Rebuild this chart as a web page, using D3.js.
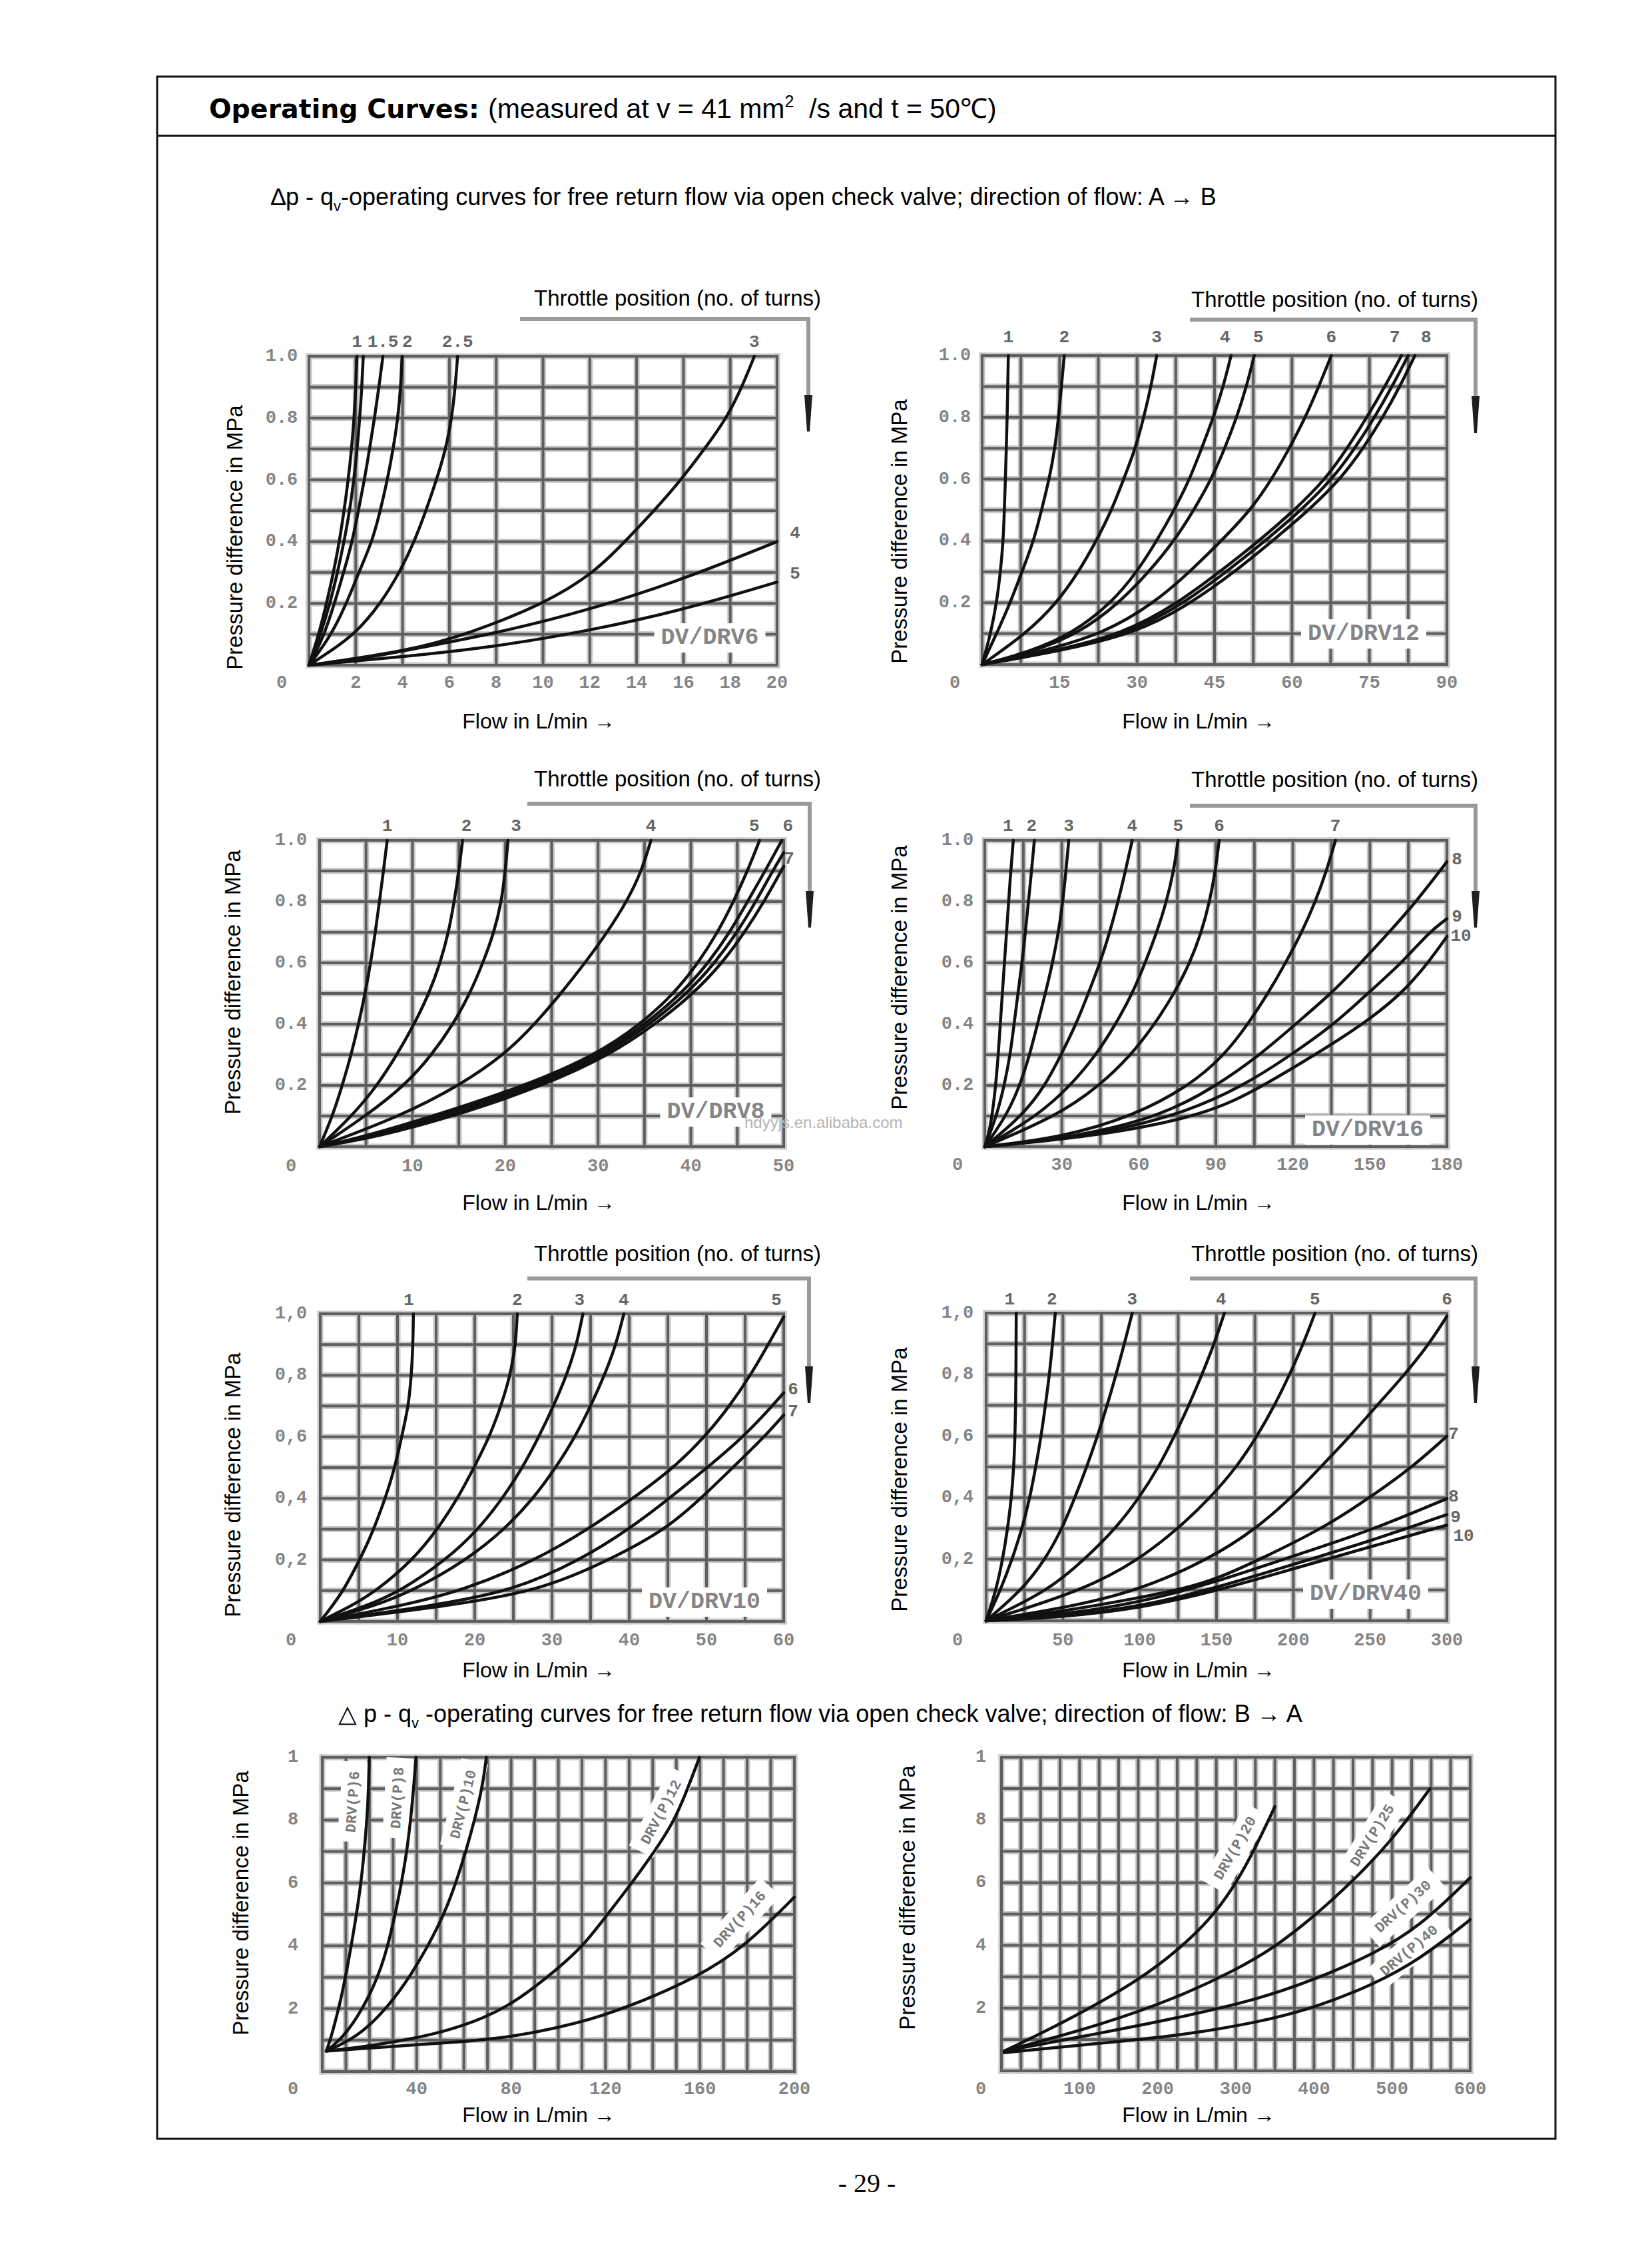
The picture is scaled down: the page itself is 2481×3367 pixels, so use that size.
<!DOCTYPE html>
<html><head><meta charset="utf-8">
<script src="https://cdn.jsdelivr.net/npm/d3@7"></script>
<style>html,body{margin:0;padding:0;background:#fff}</style>
</head><body>
<svg id="page" width="2481" height="3367" xmlns="http://www.w3.org/2000/svg"></svg>
<script>
// ================= DATA =================
// common y ticks (pressure difference, MPa)
const yTickVals = [0.2, 0.4, 0.6, 0.8, 1.0];
const yLabDot = ["0.2", "0.4", "0.6", "0.8", "1.0"];
const yLabComma = ["0,2", "0,4", "0,6", "0,8", "1,0"];
const yLabBA = ["2", "4", "6", "8", "1"];

// ---- DV/DRV6 ----
const dv6XTicks = [0, 2, 4, 6, 8, 10, 12, 14, 16, 18, 20];
const dv6Names = ["1", "", "1.5", "2", "2.5", "3", "4", "5"];
const dv6Curves = [
  [[0,0],[0.42,0.1],[0.75,0.2],[1.05,0.3],[1.3,0.4],[1.5,0.5],[1.68,0.6],[1.82,0.7],[1.93,0.8],[2.0,0.9],[2.05,1.0]],
  [[0,0],[0.5,0.1],[0.9,0.2],[1.22,0.3],[1.5,0.4],[1.74,0.5],[1.92,0.6],[2.06,0.7],[2.17,0.8],[2.26,0.9],[2.32,1.0]],
  [[0,0],[0.62,0.09],[1.09,0.2],[1.52,0.31],[1.85,0.4],[2.11,0.5],[2.37,0.6],[2.59,0.7],[2.8,0.8],[2.99,0.9],[3.16,1.0]],
  [[0,0],[0.9,0.09],[1.61,0.2],[2.18,0.31],[2.7,0.4],[3.05,0.5],[3.35,0.6],[3.6,0.7],[3.8,0.8],[3.92,0.9],[3.98,1.0]],
  [[0,0],[1.0,0.05],[1.95,0.1],[3.08,0.2],[3.94,0.31],[4.5,0.4],[5.0,0.5],[5.45,0.6],[5.85,0.7],[6.1,0.8],[6.25,0.9],[6.35,1.0]],
  [[0,0],[4.24,0.046],[6.76,0.1],[10.1,0.2],[12.2,0.3],[13.5,0.4],[14.75,0.5],[15.9,0.6],[16.9,0.7],[17.85,0.8],[18.5,0.9],[19.03,1.0]],
  [[0,0],[2,0.017],[4,0.046],[8,0.103],[12,0.179],[16,0.278],[20,0.4]],
  [[0,0],[4,0.027],[8,0.06],[12,0.112],[16,0.179],[20,0.269]]
];

// ---- DV/DRV12 ----
const dv12XTicks = [0, 15, 30, 45, 60, 75, 90];
const dv12Names = ["1", "2", "3", "4", "5", "6", "7", "", "8"];
const dv12Curves = [
  [[0,0],[1.66,0.1],[2.8,0.2],[3.55,0.3],[4.08,0.4],[4.3,0.5],[4.5,0.6],[4.68,0.7],[4.84,0.8],[4.96,0.9],[5.07,1.0]],
  [[0,0],[2.8,0.1],[5.45,0.2],[7.7,0.3],[10.0,0.4],[11.5,0.5],[13.0,0.6],[14.1,0.7],[14.8,0.8],[15.35,0.9],[15.9,1.0]],
  [[0,0],[8.5,0.1],[14.5,0.2],[18.7,0.3],[22.1,0.4],[25.1,0.5],[27.4,0.6],[29.7,0.7],[31.3,0.8],[32.7,0.9],[33.8,1.0]],
  [[0,0],[9,0.04],[17.5,0.1],[25.1,0.2],[30.0,0.3],[33.8,0.4],[37.2,0.5],[40.2,0.6],[42.5,0.7],[44.8,0.8],[46.7,0.9],[48.2,1.0]],
  [[0,0],[9.5,0.04],[18.7,0.1],[26.6,0.2],[32.3,0.3],[37.2,0.4],[41.0,0.5],[44.4,0.6],[47.0,0.7],[49.3,0.8],[51.2,0.9],[52.7,1.0]],
  [[0,0],[11,0.04],[23.6,0.1],[33.4,0.2],[40.2,0.3],[46.3,0.4],[52.0,0.5],[56.1,0.6],[59.5,0.7],[62.6,0.8],[65.2,0.9],[67.6,1.0]],
  [[0,0],[13,0.04],[27.5,0.1],[38.0,0.2],[46.0,0.3],[53.6,0.4],[60.5,0.5],[66.5,0.6],[70.7,0.7],[74.5,0.8],[78.0,0.9],[81.2,1.0]],
  [[0,0],[13.5,0.04],[28.6,0.1],[39.2,0.2],[47.3,0.3],[54.8,0.4],[61.8,0.5],[67.8,0.6],[72.2,0.7],[76.0,0.8],[79.4,0.9],[82.5,1.0]],
  [[0,0],[14,0.04],[29.8,0.1],[40.6,0.2],[48.9,0.3],[56.2,0.4],[63.3,0.5],[69.4,0.6],[73.8,0.7],[77.6,0.8],[80.9,0.9],[83.8,1.0]]
];

// ---- DV/DRV8 ----
const dv8XTicks = [0, 10, 20, 30, 40, 50];
const dv8Names = ["1", "2", "3", "4", "5", "6", "", "7"];
const dv8Curves = [
  [[0,0],[1.39,0.1],[2.44,0.2],[3.4,0.3],[4.2,0.4],[4.9,0.5],[5.5,0.6],[6.0,0.7],[6.45,0.8],[6.88,0.9],[7.28,1.0]],
  [[0,0],[3.49,0.1],[6.23,0.2],[8.33,0.3],[10.2,0.4],[11.8,0.5],[13.0,0.6],[13.9,0.7],[14.5,0.8],[15.0,0.9],[15.4,1.0]],
  [[0,0],[4.97,0.1],[9.2,0.2],[12.1,0.3],[14.4,0.4],[16.2,0.5],[17.6,0.6],[18.8,0.7],[19.6,0.8],[20.0,0.9],[20.3,1.0]],
  [[0,0],[8.75,0.1],[15.1,0.2],[19.9,0.3],[23.2,0.4],[26.0,0.5],[28.6,0.6],[31.0,0.7],[33.1,0.8],[34.7,0.9],[35.7,1.0]],
  [[0,0],[4.5,0.03],[12.3,0.1],[22.3,0.2],[29.8,0.3],[34.6,0.4],[38.2,0.5],[40.8,0.6],[42.9,0.7],[44.6,0.8],[46.1,0.9],[47.4,1.0]],
  [[0,0],[5.0,0.03],[13.1,0.1],[23.0,0.2],[30.3,0.3],[35.1,0.4],[39.0,0.5],[41.9,0.6],[44.2,0.7],[46.1,0.8],[48.0,0.9],[49.8,1.0]],
  [[0,0],[5.5,0.03],[13.9,0.1],[23.6,0.2],[30.8,0.3],[35.6,0.4],[39.6,0.5],[42.6,0.6],[45.0,0.7],[47.0,0.8],[48.8,0.9],[50,0.96]],
  [[0,0],[6.0,0.03],[14.6,0.1],[24.2,0.2],[31.3,0.3],[36.2,0.4],[40.3,0.5],[43.4,0.6],[45.8,0.7],[47.9,0.8],[50,0.915]]
];

// ---- DV/DRV16 ----
const dv16XTicks = [0, 30, 60, 90, 120, 150, 180];
const dv16Names = ["1", "2", "3", "4", "5", "6", "7", "8", "9", "10"];
const dv16Curves = [
  [[0,0],[2.0,0.055],[3.8,0.16],[5.3,0.3],[6.8,0.5],[8.4,0.69],[9.9,0.88],[11.1,1.0]],
  [[0,0],[4.6,0.1],[7.6,0.2],[9.9,0.3],[11.4,0.4],[12.9,0.5],[14.5,0.6],[15.8,0.7],[17.0,0.8],[18.2,0.9],[19.3,1.0]],
  [[0,0],[8.4,0.1],[13.7,0.2],[17.5,0.3],[20.5,0.4],[23.6,0.5],[26.4,0.6],[28.7,0.7],[30.4,0.8],[31.6,0.9],[32.7,1.0]],
  [[0,0],[14.5,0.1],[23.6,0.2],[29.7,0.3],[35.6,0.4],[40.3,0.5],[44.9,0.6],[48.7,0.7],[51.9,0.8],[54.8,0.9],[57.4,1.0]],
  [[0,0],[20.5,0.1],[33.5,0.2],[43.4,0.3],[51.0,0.4],[57.5,0.5],[62.5,0.6],[67.0,0.7],[70.8,0.8],[73.6,0.9],[75.3,1.0]],
  [[0,0],[28.1,0.1],[44.9,0.2],[57.1,0.3],[66.2,0.4],[73.8,0.5],[79.9,0.6],[84.4,0.7],[87.6,0.8],[89.8,0.9],[91.3,1.0]],
  [[0,0],[30,0.03],[58,0.1],[80,0.2],[93.5,0.3],[102.5,0.4],[110.3,0.5],[117.2,0.6],[123.5,0.7],[128.8,0.8],[133.1,0.9],[136.6,1.0]],
  [[0,0],[35,0.03],[69.2,0.1],[90.5,0.2],[107.3,0.3],[121.0,0.4],[135.0,0.5],[146.5,0.6],[157.5,0.7],[168.1,0.8],[180,0.93]],
  [[0,0],[38,0.03],[75.3,0.1],[101.2,0.2],[119.4,0.3],[136.2,0.4],[149.1,0.5],[162.5,0.6],[173.0,0.7],[180,0.744]],
  [[0,0],[40,0.03],[86,0.1],[108.8,0.2],[128.6,0.3],[147.5,0.4],[162.5,0.5],[172.7,0.6],[180,0.686]]
];

// ---- DV/DRV10 ----
const dv10XTicks = [0, 10, 20, 30, 40, 50, 60];
const dv10Names = ["1", "2", "3", "4", "5", "6", "7"];
const dv10Curves = [
  [[0,0],[2.8,0.09],[4.8,0.186],[6.3,0.262],[7.8,0.357],[9.1,0.452],[10.1,0.548],[10.9,0.643],[11.4,0.7],[11.8,0.8],[12.0,0.9],[12.05,1.0]],
  [[0,0],[4.0,0.05],[7.3,0.1],[12.0,0.2],[15.2,0.3],[17.8,0.4],[19.9,0.5],[21.9,0.6],[23.4,0.7],[24.6,0.8],[25.3,0.9],[25.5,1.0]],
  [[0,0],[6.0,0.05],[10.5,0.1],[16.3,0.2],[20.5,0.3],[23.6,0.4],[26.2,0.5],[28.3,0.6],[30.2,0.7],[31.9,0.8],[33.2,0.9],[34.0,1.0]],
  [[0,0],[7.0,0.05],[12.0,0.1],[19.0,0.2],[23.9,0.3],[27.6,0.4],[30.5,0.5],[33.0,0.6],[35.0,0.7],[36.8,0.8],[38.3,0.9],[39.3,1.0]],
  [[0,0],[10.4,0.05],[18.5,0.1],[28.0,0.2],[34.7,0.3],[40.5,0.4],[45.8,0.5],[49.8,0.6],[53.0,0.7],[55.7,0.8],[58.0,0.9],[60,0.99]],
  [[0,0],[14.4,0.05],[25.1,0.1],[33.7,0.2],[40.0,0.3],[45.2,0.4],[50.1,0.5],[54.8,0.6],[58.5,0.7],[60,0.743]],
  [[0,0],[16.5,0.05],[28.5,0.1],[37.5,0.2],[44.8,0.3],[49.3,0.4],[53.4,0.5],[57.5,0.6],[60,0.671]]
];

// ---- DV/DRV40 ----
const dv40XTicks = [0, 50, 100, 150, 200, 250, 300];
const dv40Names = ["1", "2", "3", "4", "5", "6", "7", "8", "9", "10"];
const dv40Curves = [
  [[0,0],[6.5,0.1],[10.8,0.2],[14.0,0.3],[16.5,0.4],[18.0,0.5],[18.8,0.6],[19.2,0.7],[19.4,0.8],[19.5,0.9],[19.6,1.0]],
  [[0,0],[9.4,0.1],[17.0,0.2],[23.4,0.3],[28.5,0.4],[32.3,0.5],[35.8,0.6],[38.6,0.7],[41.2,0.8],[43.2,0.9],[45.0,1.0]],
  [[0,0],[23.4,0.1],[38.6,0.2],[49.5,0.3],[57.8,0.4],[65.5,0.5],[72.5,0.6],[78.8,0.7],[84.6,0.8],[90.0,0.9],[95.1,1.0]],
  [[0,0],[41.2,0.1],[64.1,0.2],[84.4,0.3],[99.7,0.4],[112.4,0.5],[122.6,0.6],[132.0,0.7],[140.5,0.8],[148.5,0.9],[155.1,1.0]],
  [[0,0],[64.1,0.1],[100,0.2],[125.1,0.3],[146,0.4],[163.2,0.5],[176.5,0.6],[187.8,0.7],[197.6,0.8],[206.5,0.9],[214.1,1.0]],
  [[0,0],[60,0.05],[99.7,0.1],[145.4,0.2],[176.0,0.3],[198.8,0.4],[217.9,0.5],[237.0,0.6],[254.5,0.7],[272.5,0.8],[288.5,0.9],[300,0.99]],
  [[0,0],[50,0.03],[100,0.075],[125,0.1],[150,0.135],[178.5,0.2],[219.2,0.3],[249.7,0.4],[277.7,0.5],[300,0.6]],
  [[0,0],[50,0.02],[100,0.059],[150,0.126],[200,0.211],[250,0.292],[300,0.397]],
  [[0,0],[50,0.015],[100,0.045],[150,0.107],[200,0.183],[250,0.259],[300,0.345]],
  [[0,0],[50,0.012],[100,0.04],[150,0.097],[200,0.169],[250,0.24],[300,0.311]]
];

// ---- B -> A, left ----
const baLeftXTicks = [0, 40, 80, 120, 160, 200];
const baLeftNames = ["DRV(P)6", "DRV(P)8", "DRV(P)10", "DRV(P)12", "DRV(P)16"];
const baLeftCurves = [
  [[1.7,0.065],[3.3,0.097],[8.3,0.235],[13.2,0.438],[16.6,0.6],[19.0,0.803],[19.6,0.9],[19.9,1.0]],
  [[1.7,0.065],[9.9,0.114],[19.9,0.235],[26.5,0.357],[31.5,0.519],[35.6,0.681],[38.1,0.843],[39.7,1.0]],
  [[1.7,0.065],[16.6,0.114],[33.1,0.251],[44.7,0.397],[53.0,0.519],[61.3,0.706],[67.9,0.9],[69.5,1.0]],
  [[1.7,0.065],[19.9,0.081],[46.4,0.114],[69.5,0.17],[84.4,0.235],[99.3,0.324],[110.6,0.40],[120.5,0.497],[131.6,0.604],[140.7,0.70],[149.0,0.795],[154.8,0.9],[159.8,1.0]],
  [[1.7,0.065],[30,0.08],[60,0.095],[81,0.11],[109,0.154],[129,0.203],[159,0.30],[179,0.397],[200,0.555]]
];

// ---- B -> A, right ----
const baRightXTicks = [0, 100, 200, 300, 400, 500, 600];
const baRightNames = ["DRV(P)20", "DRV(P)25", "DRV(P)30", "DRV(P)40"];
const baRightCurves = [
  [[3.5,0.063],[51,0.12],[106,0.19],[176,0.29],[226,0.385],[266,0.48],[296,0.58],[323,0.70],[350,0.843]],
  [[3.5,0.063],[126,0.145],[226,0.234],[301,0.323],[351,0.396],[401,0.494],[451,0.608],[501,0.738],[548.5,0.9]],
  [[3.5,0.063],[126,0.12],[226,0.169],[326,0.226],[401,0.291],[476,0.372],[536,0.461],[600,0.616]],
  [[3.5,0.058],[126,0.088],[226,0.112],[326,0.153],[401,0.201],[476,0.275],[536,0.356],[600,0.482]]
];

// ================= LAYOUT =================
const svg = d3.select('#page');
const SANS = "'Liberation Sans', Arial, sans-serif";
const MONO = "'Liberation Mono', 'DejaVu Sans Mono', monospace";

const charts = [
  {id:'c6', x0:464, x1:1167, y0:535, y1:999, xMax:20, xStep:2, xTicks:dv6XTicks, yTickLabels:yLabDot,
   curves:dv6Curves, names:dv6Names, yLabDx:-41, xLabDy:27, topDy:-21, rightDx:27, rightDy:-12,
   labelOff:{3:[8,0]}, model:{text:'DV/DRV6', x:1066, y:958}},
  {id:'c12', x0:1475, x1:2173, y0:534, y1:998, xMax:90, xStep:7.5, xTicks:dv12XTicks, yTickLabels:yLabDot,
   curves:dv12Curves, names:dv12Names, yLabDx:-41, xLabDy:28, topDy:-27, rightDx:20, rightDy:-8,
   labelOff:{3:[-9,0],4:[6,0],6:[-10,0],8:[17,0]}, model:{text:'DV/DRV12', x:2048, y:952}},
  {id:'c8', x0:480, x1:1177, y0:1262, y1:1722, xMax:50, xStep:5, xTicks:dv8XTicks, yTickLabels:yLabDot,
   curves:dv8Curves, names:dv8Names, yLabDx:-43, xLabDy:30, topDy:-21, rightDx:8, rightDy:-11,
   labelOff:{1:[6,0],2:[12,0],4:[-8,0],5:[9,0]}, model:{text:'DV/DRV8', x:1075, y:1670}},
  {id:'c16', x0:1479, x1:2173, y0:1262, y1:1722, xMax:180, xStep:15, xTicks:dv16XTicks, yTickLabels:yLabDot,
   curves:dv16Curves, names:dv16Names, yLabDx:-41, xLabDy:28, topDy:-21, rightDx:15, rightDy:-3,
   labelOff:{0:[-8,0],1:[-4,0],9:[6,3]}, model:{text:'DV/DRV16', x:2054, y:1697}},
  {id:'c10', x0:481, x1:1177, y0:1973, y1:2435, xMax:60, xStep:5, xTicks:dv10XTicks, yTickLabels:yLabComma,
   curves:dv10Curves, names:dv10Names, yLabDx:-44, xLabDy:29, topDy:-20, rightDx:14, rightDy:-5,
   labelOff:{0:[-7,0],2:[-5,0],4:[-11,0]}, model:{text:'DV/DRV10', x:1058, y:2406}},
  {id:'c40', x0:1481, x1:2173, y0:1972, y1:2434, xMax:300, xStep:25, xTicks:dv40XTicks, yTickLabels:yLabComma,
   curves:dv40Curves, names:dv40Names, yLabDx:-43, xLabDy:30, topDy:-20, rightDx:10, rightDy:-3,
   labelOff:{0:[-10,0],1:[-5,0],3:[-5,0],8:[3,7],9:[15,20]}, model:{text:'DV/DRV40', x:2051, y:2394}},
  {id:'cbl', x0:484, x1:1193, y0:2639, y1:3111, xMax:200, xStep:10, xTicks:baLeftXTicks, yTickLabels:yLabBA,
   curves:baLeftCurves, names:[], yLabDx:-44, xLabDy:27,
   rot:{names:baLeftNames, pos:[[531,2706,-86],[598,2700,-87],[697,2710,-76],[994,2722,-62],[1112,2883,-48]]}},
  {id:'cbr', x0:1504, x1:2208, y0:2639, y1:3110, xMax:600, xStep:25, xTicks:baRightXTicks, yTickLabels:yLabBA,
   curves:baRightCurves, names:[], yLabDx:-31, xLabDy:28,
   rot:{names:baRightNames, pos:[[1856,2776,-60],[2062,2757,-58],[2108,2864,-42],[2117,2930,-40]]}}
];

const yTitles = [[352,807],[1350,798],[349,1475],[1350,1468],[349,2230],[1350,2222],[361,2858],[1362,2850]];
const flowLabels = [[809,1083],[1800,1083],[809,1806],[1800,1806],[809,2508],[1800,2508],[809,3176],[1800,3176]];
const throttles = [
  {tx:1233, ty:459, hx0:781, vx:1214, hy:479, yEnd:648},
  {tx:2220, ty:461, hx0:1787, vx:2216, hy:480, yEnd:650},
  {tx:1233, ty:1181, hx0:792, vx:1216, hy:1207, yEnd:1393},
  {tx:2220, ty:1182, hx0:1787, vx:2216, hy:1210, yEnd:1393},
  {tx:1233, ty:1894, hx0:792, vx:1215, hy:1920, yEnd:2107},
  {tx:2220, ty:1894, hx0:1787, vx:2216, hy:1920, yEnd:2107}
];

// ================= PAGE FRAME & TITLES =================
svg.append('rect').attr('x',0).attr('y',0).attr('width',2481).attr('height',3367).attr('fill','#fff');
svg.append('rect').attr('x',236).attr('y',115).attr('width',2100).attr('height',3097)
  .attr('fill','none').attr('stroke','#111').attr('stroke-width',3);
svg.append('line').attr('x1',236).attr('x2',2336).attr('y1',204).attr('y2',204)
  .attr('stroke','#111').attr('stroke-width',3);

svg.append('text').attr('x',314).attr('y',177).attr('font-family',"'DejaVu Sans', sans-serif")
  .attr('font-weight','bold').attr('font-size',39.5).attr('fill','#000').text('Operating Curves:');
{
  const t = svg.append('text').attr('x',733).attr('y',177).attr('font-family',SANS).attr('font-size',41).attr('fill','#000');
  t.append('tspan').text('(measured at v = 41 mm');
  t.append('tspan').attr('font-size',25).attr('dy',-16).text('2');
  t.append('tspan').attr('dy',16).text('\u00a0 /s and t = 50\u2103)');
}
function subtitle(x, y, pre, post) {
  const t = svg.append('text').attr('x',x).attr('y',y).attr('font-family',SANS).attr('font-size',36).attr('fill','#000');
  t.append('tspan').text(pre);
  t.append('tspan').attr('font-size',22).attr('dy',9).text('v');
  t.append('tspan').attr('dy',-9).text(post);
}
subtitle(407, 308, '\u2206p - q', '-operating curves for free return flow via open check valve; direction of flow: A \u2192 B');
subtitle(508, 2586, '\u25B3 p - q', ' -operating curves for free return flow via open check valve; direction of flow: B \u2192 A');

svg.append('text').attr('x',1302).attr('y',3292).attr('text-anchor','middle')
  .attr('font-family',"'Liberation Serif', 'Times New Roman', serif").attr('font-size',40).text('- 29 -');

// ================= CHARTS =================
function drawChart(c) {
  const xs = d3.scaleLinear().domain([0, c.xMax]).range([c.x0, c.x1]);
  const ys = d3.scaleLinear().domain([0, 1]).range([c.y1, c.y0]);
  const g = svg.append('g');
  svg.append('clipPath').attr('id', c.id).append('rect')
    .attr('x', c.x0 - 3).attr('y', c.y0 - 3).attr('width', c.x1 - c.x0 + 6).attr('height', c.y1 - c.y0 + 6);

  const xg = d3.range(0, c.xMax + c.xStep / 2, c.xStep);
  const yg = d3.range(0, 11).map(i => i / 10);
  [['#c8c8c8', 9], ['#5e5e5e', 4]].forEach(([col, w]) => {
    const gg = g.append('g').attr('stroke', col).attr('stroke-width', w).attr('stroke-linecap','square');
    gg.selectAll('line.v').data(xg).join('line').attr('class','v')
      .attr('x1', d => xs(d)).attr('x2', d => xs(d)).attr('y1', c.y0).attr('y2', c.y1);
    gg.selectAll('line.h').data(yg).join('line').attr('class','h')
      .attr('y1', d => ys(d)).attr('y2', d => ys(d)).attr('x1', c.x0).attr('x2', c.x1);
  });

  // tick labels
  const tick = sel => sel.attr('font-family', MONO).attr('font-weight','bold').attr('font-size',27)
    .attr('fill','#858585').attr('text-anchor','middle').attr('dominant-baseline','central');
  g.append('g').selectAll('text').data(c.xTicks).join('text')
    .attr('x', d => d === 0 ? c.x0 + c.yLabDx : xs(d)).attr('y', c.y1 + c.xLabDy)
    .call(tick).text(d => String(d));
  g.append('g').selectAll('text').data(yTickVals).join('text')
    .attr('x', c.x0 + c.yLabDx).attr('y', d => ys(d))
    .call(tick).text((d, i) => c.yTickLabels[i]);

  // model label with white box
  if (c.model) {
    const mg = g.append('g');
    const box = mg.append('rect').attr('fill','#fff');
    const t = mg.append('text').attr('x', c.model.x).attr('y', c.model.y)
      .attr('font-family', MONO).attr('font-weight','bold').attr('font-size',35).attr('fill','#858585')
      .attr('text-anchor','middle').attr('dominant-baseline','central').text(c.model.text);
    const bb = t.node().getBBox();
    box.attr('x', bb.x - 10).attr('y', bb.y - 2).attr('width', bb.width + 20).attr('height', bb.height + 4);
  }
  // rotated labels (B->A charts) with white backing
  if (c.rot) {
    c.rot.names.forEach((n, i) => {
      const [x, y, a] = c.rot.pos[i];
      const rg = g.append('g').attr('transform', `translate(${x},${y}) rotate(${a})`);
      const box = rg.append('rect').attr('fill','#fff');
      const t = rg.append('text').attr('x',0).attr('y',0).attr('font-family', MONO).attr('font-weight','bold')
        .attr('font-size',22).attr('fill','#7a7a7a').attr('text-anchor','middle')
        .attr('dominant-baseline','central').text(n);
      const bb = t.node().getBBox();
      box.attr('x', bb.x - 14).attr('y', bb.y - 8).attr('width', bb.width + 28).attr('height', bb.height + 16);
    });
  }

  // curves (B-spline smoothing through the read-off points)
  const line = d3.line().x(d => xs(d[0])).y(d => ys(d[1])).curve(d3.curveBasis);
  g.append('g').attr('clip-path', `url(#${c.id})`).selectAll('path').data(c.curves).join('path')
    .attr('d', line).attr('fill','none').attr('stroke','#111').attr('stroke-width',4.5)
    .attr('stroke-linejoin','round').attr('stroke-linecap','round');

  // curve (throttle turn) labels
  c.names.forEach((n, i) => {
    if (!n) return;
    const pts = c.curves[i];
    const last = pts[pts.length - 1];
    const off = (c.labelOff && c.labelOff[i]) || [0, 0];
    let x, y;
    if (last[1] >= 0.985) { x = xs(last[0]) + off[0]; y = c.y0 + c.topDy + off[1]; }
    else { x = c.x1 + c.rightDx + off[0]; y = ys(last[1]) + c.rightDy + off[1]; }
    g.append('text').attr('x', x).attr('y', y).attr('font-family', MONO).attr('font-weight','bold')
      .attr('font-size',26).attr('fill','#666').attr('text-anchor','middle')
      .attr('dominant-baseline','central').text(n);
  });
}
charts.forEach(drawChart);

// axis titles
yTitles.forEach(([x, y]) => {
  svg.append('text').attr('transform', `translate(${x},${y}) rotate(-90)`)
    .attr('text-anchor','middle').attr('dominant-baseline','central')
    .attr('font-family', SANS).attr('font-size',33).attr('fill','#000').text('Pressure difference in MPa');
});
flowLabels.forEach(([x, y]) => {
  svg.append('text').attr('x', x).attr('y', y).attr('text-anchor','middle').attr('dominant-baseline','central')
    .attr('font-family', SANS).attr('font-size',32).attr('fill','#000').text('Flow in L/min \u2192');
});

// throttle position brackets
throttles.forEach(t => {
  svg.append('text').attr('x', t.tx).attr('y', t.ty).attr('text-anchor','end')
    .attr('font-family', SANS).attr('font-size',33).attr('fill','#000').text('Throttle position (no. of turns)');
  svg.append('path').attr('d', `M${t.hx0},${t.hy} H${t.vx} V${t.yEnd - 50}`)
    .attr('fill','none').attr('stroke','#9a9a9a').attr('stroke-width',6);
  svg.append('path').attr('d', `M${t.vx - 6},${t.yEnd - 55} L${t.vx + 6},${t.yEnd - 55} L${t.vx + 2},${t.yEnd} L${t.vx - 2},${t.yEnd} Z`)
    .attr('fill','#1e1e1e');
});

// scan watermark
svg.append('text').attr('x',1118).attr('y',1694).attr('font-family', SANS).attr('font-size',24)
  .attr('fill','#b4b4b4').text('hdyyjs.en.alibaba.com');
</script>
</body></html>
